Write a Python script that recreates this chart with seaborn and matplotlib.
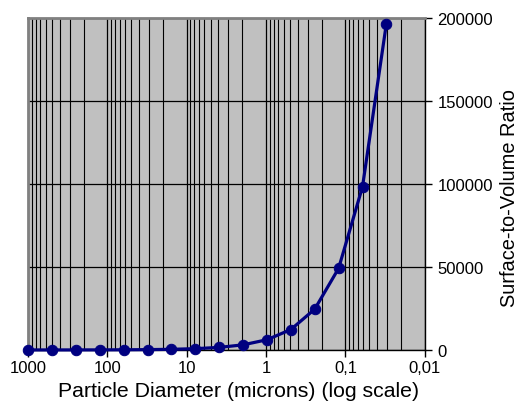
import numpy as np
import pandas as pd
import matplotlib
matplotlib.use("Agg")
import matplotlib.pyplot as plt
import seaborn as sns
from matplotlib.ticker import LogLocator, FixedLocator, NullFormatter

# --- data ---
diameter = [1000, 500, 250, 125, 62.5, 31.25, 15.625, 7.8125, 3.90625,
            1.953125, 0.9765625, 0.48828125, 0.244140625, 0.1220703125,
            0.06103515625, 0.030517578125]
ratio = [6, 12, 24, 48, 96, 192, 384, 768, 1536, 3072, 6144, 12288,
         24576, 49152, 98304, 196608]
x_ticks = [1000, 100, 10, 1, 0.1, 0.01]
x_tick_labels = ["1000", "100", "10", "1", "0,1", "0,01"]
y_ticks = [0, 50000, 100000, 150000, 200000]

df = pd.DataFrame({"diameter": diameter, "ratio": ratio})

sns.set_theme(style="white")
plt.rcParams['font.family'] = ['Liberation Sans', 'DejaVu Sans']
plt.rcParams['text.color'] = 'black'
plt.rcParams['axes.labelcolor'] = 'black'
plt.rcParams['xtick.color'] = 'black'
plt.rcParams['ytick.color'] = 'black'

fig = plt.figure(figsize=(5.2, 4.02), dpi=100)
ax = fig.add_axes([0.054, 0.127, 0.763, 0.826])
ax.set_facecolor('#C0C0C0')

sns.lineplot(data=df, x="diameter", y="ratio", ax=ax, color='#000080',
             linewidth=2.3, marker='o', markersize=7.5,
             markeredgecolor='#000080', zorder=5, clip_on=False)

ax.set_xscale('log')
ax.set_xlim(1000, 0.01)
ax.set_ylim(0, 200000)

ax.xaxis.set_major_locator(FixedLocator(x_ticks))
ax.set_xticklabels(x_tick_labels)
ax.xaxis.set_minor_locator(LogLocator(base=10, subs=np.arange(2, 10)))
ax.xaxis.set_minor_formatter(NullFormatter())
ax.set_yticks(y_ticks)
ax.set_yticklabels([str(v) for v in y_ticks])

ax.grid(True, which='major', axis='both', color='black', linewidth=0.9)
ax.grid(True, which='minor', axis='x', color='black', linewidth=0.8)
ax.set_axisbelow(True)

ax.yaxis.tick_right()
ax.yaxis.set_label_position('right')
ax.tick_params(axis='y', which='major', length=5, width=1, colors='black',
               labelsize=12, pad=4, right=True, left=False, direction='out')
ax.tick_params(axis='x', which='major', length=5, width=1, colors='black',
               labelsize=12, pad=2, bottom=True, direction='out')
ax.tick_params(axis='x', which='minor', length=0)

for side in ['top', 'left']:
    ax.spines[side].set_color('#808080')
    ax.spines[side].set_linewidth(2)
for side in ['bottom', 'right']:
    ax.spines[side].set_color('black')
    ax.spines[side].set_linewidth(1)

ax.set_xlabel('Particle Diameter (microns) (log scale)', fontsize=15.3,
              color='black')
ax.set_ylabel('Surface-to-Volume Ratio', fontsize=14.4, color='black')
# label positions in axes fraction, placed as in the reference
ax.xaxis.set_label_coords(0.53, -0.095)
ax.yaxis.set_label_coords(1.19, 0.46)

fig.savefig('out.png', dpi=100)
